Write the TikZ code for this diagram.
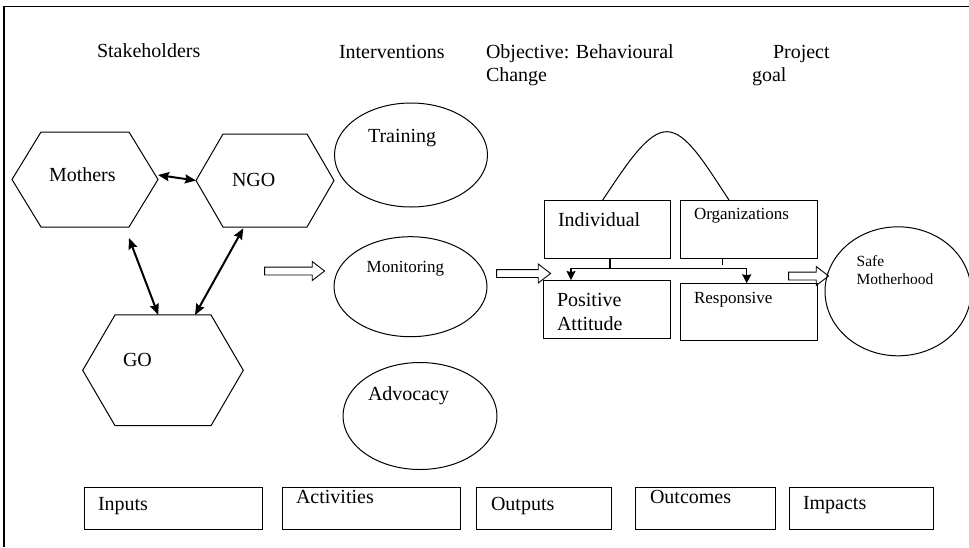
\documentclass[tikz,border=0pt]{standalone}
\usepackage{fontspec}
\setmainfont{Liberation Serif}
\usetikzlibrary{shapes.geometric,shapes.arrows,arrows.meta,calc}
\newcommand\hexpath[2]{\draw[shp] (#1.west) -- ([xshift=#2]#1.north west) -- ([xshift=-#2]#1.north east) -- (#1.east) -- ([xshift=-#2]#1.south east) -- ([xshift=#2]#1.south west) -- cycle;}
\begin{document}
\begin{tikzpicture}[x=1pt,y=-1pt,
  every node/.style={inner sep=0pt,outer sep=0pt},
  lbl/.style={anchor=base west,font=\fontsize{20}{22}\selectfont},
  lbls/.style={anchor=base west,font=\fontsize{17}{19}\selectfont},
  lblxs/.style={anchor=base west,font=\fontsize{15.5}{17}\selectfont},
  shp/.style={draw,line width=1pt},
  oval/.style={shp,ellipse},
  box/.style={shp,rectangle},
  hollow/.style={draw,line width=0.9pt,single arrow,single arrow head extend=5.5pt,inner sep=3.5pt,single arrow tip angle=75},
  dbl/.style={line width=2pt,{Stealth[length=11pt,width=9pt,inset=1.5pt]}-{Stealth[length=11pt,width=9pt,inset=1.5pt]}},
  conn/.style={line width=1.2pt},
  dn/.style={conn,-{Stealth[length=9pt,width=9pt,inset=1pt]}}
]
\useasboundingbox (0,0) rectangle (969,547);
% frame
\draw[line width=1.3pt] (4,547) -- (4,6.5) -- (969,6.5);

% headers
\node[lbl] (hstake) at (97,57) {Stakeholders};
\node[lbl] (hinter) at (339,58) {Interventions};
\node[lbl] (hobj1) at (486,58) {Objective: Behavioural};
\node[lbl] (hobj2) at (486,81) {Change};
\node[lbl] (hproj1) at (773,58) {Project};
\node[lbl] (hproj2) at (752,81) {goal};

% hexagons
\node[minimum width=146pt,minimum height=95pt] (mothers) at (85,179.5) {};
\hexpath{mothers}{29pt}
\node[lbl] (tmothers) at (49,181.7) {Mothers};
\node[minimum width=138pt,minimum height=93pt] (ngo) at (265,180.5) {};
\hexpath{ngo}{27pt}
\node[lbl] (tngo) at (232,186) {NGO};
\node[minimum width=160.6pt,minimum height=110.7pt] (go) at (163,370.3) {};
\hexpath{go}{32.3pt}
\node[lbl] (tgo) at (123,366) {GO};

\draw[dbl] ([yshift=4.5pt]mothers.east) -- (ngo.west);
\draw[dbl] ($(mothers.south east)+(-29,11)$) -- ($(go.north)+(-4.7,0)$);
\draw[dbl] ($(ngo.south)+(-21.7,1.3)$) -- ($(go.north)+(32,0)$);

% hollow arrows
\node[hollow,minimum height=60pt] (ar1) at (292,271) {};
\node[hollow,minimum height=54pt] (ar2) at (521,273.5) {};
\node[hollow,minimum height=40pt] (ar3) at (806,276) {};

% interventions
\node[oval,minimum width=153pt,minimum height=104pt] (train) at (411,155) {};
\node[lbl] (ttrain) at (368,142) {Training};
\node[oval,minimum width=153pt,minimum height=100pt] (monit) at (410.5,286.7) {};
\node[lbls] (tmonit) at (366.7,272) {Monitoring};
\node[oval,minimum width=154pt,minimum height=107pt] (advoc) at (420,416) {};
\node[lbl] (tadvoc) at (368,400) {Advocacy};

% behavioural change
\node[box,minimum width=126.4pt,minimum height=58.3pt] (ind) at (607.5,229.2) {};
\node[lbl] (tind) at (558,226.7) {Individual};
\node[box,minimum width=136.6pt,minimum height=58.3pt] (org) at (749,229.2) {};
\node[lbls] (torg) at (694,219.5) {Organizations};
\node[box,minimum width=127.4pt,minimum height=58.3pt] (pos) at (607,309.2) {};
\node[lbl] (tpos1) at (557,306.7) {Positive};
\node[lbl] (tpos2) at (557,330) {Attitude};
\node[box,minimum width=137.3pt,minimum height=57.4pt] (resp) at (748.7,312) {};
\node[lbls] (tresp) at (694,303.5) {Responsive};

\draw[shp] ([xshift=-4.8pt]ind.north) .. controls (628,162) and (648,131.7) .. (666.7,131.7) .. controls (686,131.7) and (704,162) .. ([xshift=-20pt]org.north);

\coordinate (hl) at (571,268.3);
\coordinate (hr) at (746.7,268.3);
\draw[conn] ($(ind.south)+(2.5,0)$) -- ++(0,10);
\draw[conn] ($(org.south)+(-26.7,0)$) -- ++(0,6.7);
\draw[conn] (hl) -- (hr);
\draw[dn] (hl) -- (hl |- pos.north);
\draw[dn] (hr) -- (hr |- resp.north);

% goal
\node[oval,minimum width=146pt,minimum height=129pt] (safe) at (898,291.3) {};
\node[lblxs] (tsafe1) at (856.7,266.7) {Safe};
\node[lblxs] (tsafe2) at (856.7,284) {Motherhood};

% bottom row
\node[box,minimum width=178pt,minimum height=42.3pt] (inp) at (173,508.2) {};
\node[lbl] (tinp) at (98,510) {Inputs};
\node[box,minimum width=178pt,minimum height=42.3pt] (act) at (371,508.2) {};
\node[lbl] (tact) at (296,503) {Activities};
\node[box,minimum width=135pt,minimum height=42.3pt] (outp) at (543.5,508.2) {};
\node[lbl] (toutp) at (491,510) {Outputs};
\node[box,minimum width=140pt,minimum height=42.3pt] (outc) at (705,508.2) {};
\node[lbl] (toutc) at (650,503) {Outcomes};
\node[box,minimum width=144pt,minimum height=42.3pt] (imp) at (861,508.2) {};
\node[lbl] (timp) at (803,509) {Impacts};
\end{tikzpicture}
\end{document}
